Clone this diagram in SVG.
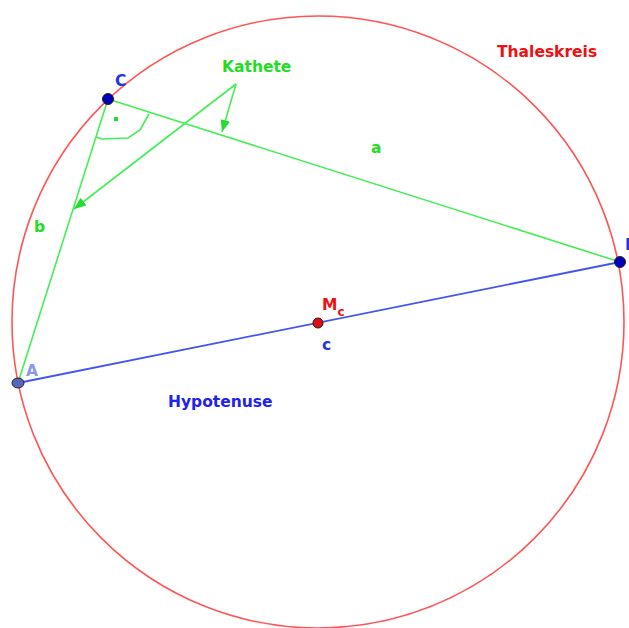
<svg xmlns="http://www.w3.org/2000/svg" width="629" height="628" viewBox="0 0 629 628">
<defs>
<style>
.lbl{font-family:"DejaVu Sans","Liberation Sans",sans-serif;font-size:15.5px;font-weight:bold}
.g{stroke:#44ee55;stroke-width:1.6;fill:none}
</style>
<marker id="ah" viewBox="0 0 10 10" refX="10" refY="5" markerWidth="12" markerHeight="12" markerUnits="userSpaceOnUse" orient="auto">
<path d="M0,1 L10,5 L0,9 Z" fill="#22dd33"/>
</marker>
</defs>
<rect width="629" height="628" fill="#fff"/>
<g id="thaleskreis">
<circle cx="318" cy="322" r="306" fill="none" stroke="#ff5555" stroke-width="1.6"/>
<text class="lbl" x="497" y="57" fill="#ee1111">Thaleskreis</text>
</g>
<g id="connectors">
<line class="g" x1="108" y1="99" x2="620" y2="262"/>
<line class="g" x1="108" y1="99" x2="18" y2="383"/>
<line x1="18" y1="383" x2="620" y2="262" stroke="#4455ee" stroke-width="1.8"/>
<path class="g" d="M96,137 L102,139 L128,138 L140,130 L149,114"/>
<rect x="114" y="117" width="4" height="4" fill="#22dd33"/>
<line class="g" x1="236" y1="84" x2="222" y2="132" marker-end="url(#ah)"/>
<line class="g" x1="236" y1="84" x2="74" y2="209" marker-end="url(#ah)"/>
</g>
<g id="kathete"><text class="lbl" x="222" y="72" fill="#22dd22">Kathete</text></g>
<g id="labels">
<text class="lbl" x="371" y="153" fill="#22dd22">a</text>
<text class="lbl" x="34" y="232" fill="#22dd22">b</text>
<text class="lbl" x="322" y="350" fill="#2233ee">c</text>
<text class="lbl" x="168" y="407" fill="#2222ee">Hypotenuse</text>
</g>
<g id="C">
<circle cx="108" cy="99" r="5.5" fill="#0000bb" stroke="#222" stroke-width="1"/>
<text class="lbl" x="115" y="86" fill="#2233ee">C</text>
</g>
<g id="B">
<circle cx="620" cy="262" r="5.5" fill="#0000bb" stroke="#222" stroke-width="1"/>
<text class="lbl" x="625" y="250" fill="#2233ee">B</text>
</g>
<g id="A">
<ellipse cx="18" cy="383" rx="6" ry="5" fill="#5566bb" stroke="#223" stroke-width="1"/>
<text class="lbl" x="26" y="376" fill="#8899ee">A</text>
</g>
<g id="Mc">
<circle cx="318" cy="323" r="5" fill="#dd1111" stroke="#331111" stroke-width="1"/>
<text class="lbl" x="322" y="310" fill="#ee1111">M<tspan font-size="12" dy="6">c</tspan></text>
</g>
</svg>
